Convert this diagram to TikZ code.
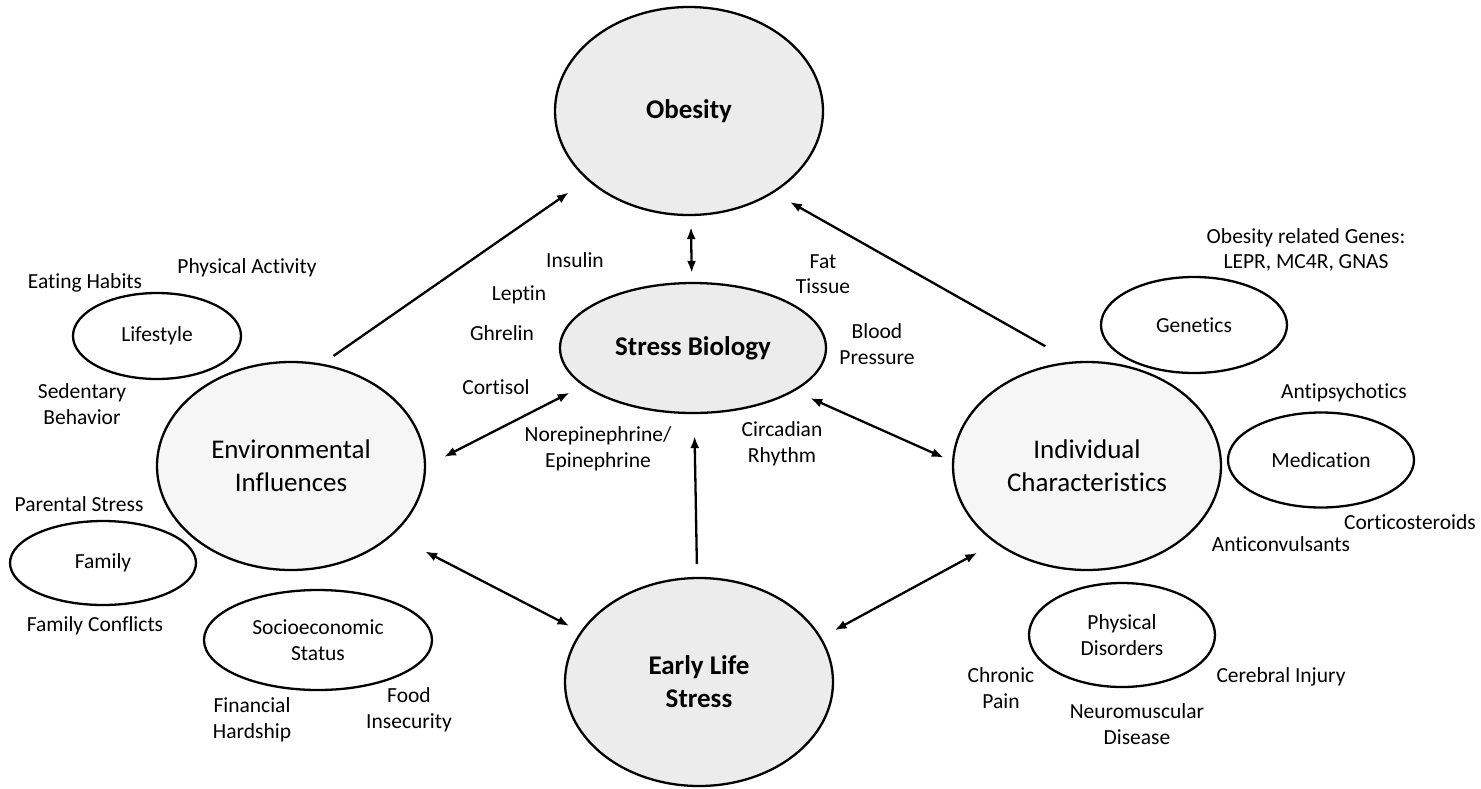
\documentclass[tikz,border=0pt]{standalone}
\usepackage{fontspec}
\setmainfont{Carlito}[Ligatures=NoCommon]
\usetikzlibrary{arrows.meta,shapes.geometric}
\begin{document}
\begin{tikzpicture}[x=1pt,y=-1pt,
  big/.style={ellipse,draw,line width=2.3pt,minimum width=268pt,minimum height=208pt,inner sep=0pt,align=center,font=\fontsize{27}{33}\selectfont},
  dark/.style={big,fill=gray!15},
  light/.style={big,fill=gray!7},
  boldtxt/.style={font=\fontsize{27}{33}\selectfont\bfseries},
  sub/.style={ellipse,draw,line width=2.3pt,inner sep=0pt,fill=white,align=center,font=\fontsize{21.5}{25.5}\selectfont},
  lbl/.style={inner sep=0pt,align=center,font=\fontsize{21.5}{25.5}\selectfont},
  tip/.tip={Latex[length=12pt,width=9pt]},
  arr/.style={line width=2.3pt,-tip},
  darr/.style={line width=2.3pt,tip-tip}
]
\useasboundingbox (0,0) rectangle (1481,788);

% main ellipses
\node[dark,boldtxt] (obesity) at (689,111) {Obesity};
\node[dark,boldtxt,minimum width=266pt,minimum height=130pt] (stress) at (693,348) {Stress Biology};
\node[light] (env) at (291,466) {Environmental\\Influences};
\node[light] (indiv) at (1087,466) {Individual\\Characteristics};
\node[dark,boldtxt] (early) at (699,682) {Early Life\\Stress};

% sub ellipses
\node[sub,minimum width=168pt,minimum height=86pt] (lifestyle) at (157,336) {Lifestyle};
\node[sub,minimum width=186pt,minimum height=84pt] (family) at (103,563) {Family};
\node[sub,minimum width=228pt,minimum height=100pt] (ses) at (318,640) {Socioeconomic\\Status};
\node[sub,minimum width=186pt,minimum height=96pt] (genetics) at (1194,325) {Genetics};
\node[sub,minimum width=186pt,minimum height=95pt] (medication) at (1321,460) {Medication};
\node[sub,minimum width=186pt,minimum height=104pt] (physdis) at (1122,635) {Physical\\Disorders};

% labels
\node[lbl] (eating) at (85,283) {Eating Habits};
\node[lbl] (physact) at (247,268) {Physical Activity};
\node[lbl] (sedentary) at (82,404) {Sedentary\\Behavior};
\node[lbl] (parental) at (79,504) {Parental Stress};
\node[lbl] (conflicts) at (95,626) {Family Conflicts};
\node[lbl] (financial) at (252,720) {Financial\\Hardship};
\node[lbl] (food) at (409,710) {Food\\Insecurity};
\node[lbl] (insulin) at (575,260) {Insulin};
\node[lbl] (leptin) at (519,295) {Leptin};
\node[lbl] (ghrelin) at (502,333) {Ghrelin};
\node[lbl] (cortisol) at (496,387) {Cortisol};
\node[lbl] (norepi) at (598,449) {Norepinephrine/\\Epinephrine};
\node[lbl] (fat) at (823,274) {Fat\\Tissue};
\node[lbl] (blood) at (877,344) {Blood\\Pressure};
\node[lbl] (circadian) at (782,444) {Circadian\\Rhythm};
\node[lbl] (genes) at (1306,250) {Obesity related Genes:\\LEPR, MC4R, GNAS};
\node[lbl] (antipsy) at (1344,393) {Antipsychotics};
\node[lbl] (cortico) at (1410,522) {Corticosteroids};
\node[lbl] (anticonv) at (1281,544) {Anticonvulsants};
\node[lbl] (chronic) at (1001,688) {Chronic\\Pain};
\node[lbl] (neuro) at (1137,724) {Neuromuscular\\Disease};
\node[lbl] (cerebral) at (1281,677) {Cerebral Injury};

% connectors
\draw[arr, shorten <=13.7pt, shorten >=22pt] (env.73.1) -- (obesity.214.1);
\draw[arr, shorten <=31pt, shorten >=18.5pt] (indiv.98.3) -- (obesity.316.4);
\draw[darr, shorten <=11pt, shorten >=9pt] (obesity) -- (stress);
\draw[darr, shorten <=20pt, shorten >=15pt] (env.0.5) -- (stress.199.6);
\draw[darr, shorten <=17pt, shorten >=9pt] (stress.337.5) -- (indiv.178.2);
\draw[arr, shorten <=13pt, shorten >=22pt] (early) -- (stress);
\draw[darr, shorten <=36pt, shorten >=12.4pt] (env.326.7) -- (early.157.4);
\draw[darr, shorten <=20.3pt, shorten >=15pt] (indiv.220) -- (early.20.4);
\end{tikzpicture}
\end{document}
